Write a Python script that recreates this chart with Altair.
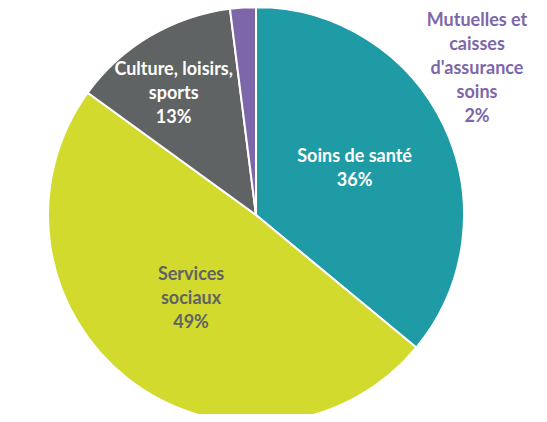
import altair as alt
import pandas as pd

categories = ["Soins de santé", "Services sociaux", "Culture, loisirs, sports",
              "Mutuelles et caisses d'assurance soins"]
valeurs = [36, 49, 13, 2]
etiquettes = ["Soins de santé\n36%", "Services\nsociaux\n49%",
              "Culture, loisirs,\nsports\n13%",
              "Mutuelles et\ncaisses\nd'assurance\nsoins\n2%"]
couleurs = ["#1F9BA6", "#D2DA2E", "#5F6363", "#7E66AA"]
couleurs_texte = ["#FFFFFF", "#5F6363", "#FFFFFF", "#7E66AA"]

df = pd.DataFrame({"categorie": categories, "valeur": valeurs,
                   "etiquette": etiquettes, "ordre": list(range(len(categories)))})

CX, CY, R = 248, 207, 208
LH = 24
theta_scale = alt.Scale(domain=[0, 100])

base = alt.Chart(df)

arc = base.mark_arc(outerRadius=R, stroke="white", strokeWidth=2).encode(
    theta=alt.Theta("valeur:Q", stack=True, scale=theta_scale),
    order=alt.Order("ordre:Q"),
    color=alt.Color("categorie:N", scale=alt.Scale(domain=categories, range=couleurs), legend=None),
    x=alt.value(CX), y=alt.value(CY),
)

txt_base = base.transform_window(
    cum="sum(valeur)", sort=[{"field": "ordre"}], frame=[None, 0]
).transform_calculate(mid="datum.cum - datum.valeur / 2")


def label(i, r, dx=0, dy=0):
    n = etiquettes[i].count("\n")
    return txt_base.transform_filter(alt.datum.ordre == i).mark_text(
        radius=r, dx=dx, dy=dy - n * LH / 2, font="Lato", fontWeight="bold", fontSize=18,
        lineBreak="\n", lineHeight=LH, color=couleurs_texte[i],
        align="center", baseline="middle",
    ).encode(
        theta=alt.Theta("mid:Q", stack=None, scale=theta_scale),
        text="etiquette:N",
        x=alt.value(CX), y=alt.value(CY),
    )


chart = alt.layer(
    arc,
    label(0, 109),
    label(1, 106),
    label(2, 146, -8, 5),
    label(3, 0, 221, -146),
).properties(
    width=531, height=406, autosize="none", padding=0
).configure_view(stroke=None)

chart.save("out.html", embed_options={"renderer": "svg", "actions": False})
